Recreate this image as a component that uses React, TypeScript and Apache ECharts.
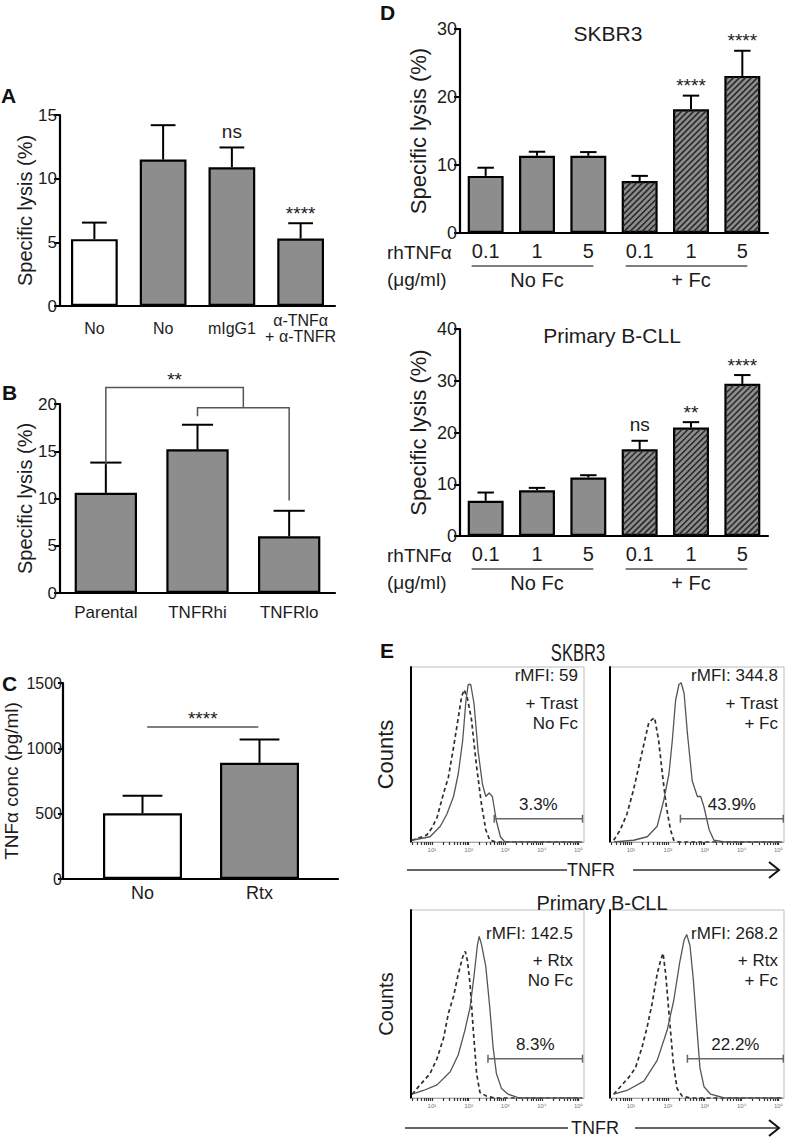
import React, { useEffect, useRef } from 'react';
import * as echarts from 'echarts';

// ---------------- data ----------------
// Panel A
const aCategories = ['No', 'No', 'mIgG1', 'α-TNFα\n+ α-TNFR'];
const aMeans = [5.25, 11.5, 10.9, 5.3];
const aSems = [1.3, 2.7, 1.55, 1.2];
const aSig = ['', '', 'ns', '****'];
const aFilled = [false, true, true, true];

// Panel B
const bCategories = ['Parental', 'TNFRhi', 'TNFRlo'];
const bMeans = [10.6, 15.2, 6.0];
const bSems = [3.2, 2.6, 2.7];
const bBracketOuter = [[0, 13.6], [0, 21.75], [1.5, 21.75], [1.5, 19.6]];
const bBracketInner = [[1, 18.7], [1, 19.6], [2, 19.6], [2, 9.8]];
const bBracketLabel = '**';

// Panel C
const cCategories = ['No', 'Rtx'];
const cMeans = [503, 889];
const cSems = [135, 179];
const cFilled = [false, true];
const cSigLine = [1.04, 1164, 1.99];
const cSigLabel = '****';

// Panel D
const dDoses = ['0.1', '1', '5', '0.1', '1', '5'];
const dGroups = ['No Fc', '+ Fc'];
const dGroupSpans = [[0, 2], [3, 5]];
const dHatched = [false, false, false, true, true, true];
const d1Means = [8.4, 11.35, 11.35, 7.65, 18.2, 23.1];
const d1Sems = [1.2, 0.6, 0.55, 0.75, 2.0, 3.7];
const d1Sig = ['', '', '', '', '****', '****'];
const d2Means = [6.8, 8.85, 11.3, 16.75, 20.95, 29.4];
const d2Sems = [1.6, 0.45, 0.45, 1.65, 1.05, 1.7];
const d2Sig = ['', '', '', 'ns', '**', '****'];

// Panel E  (x = log10 fluorescence, y = relative counts)
const eDecades = [1, 2, 3, 4, 5];
const e1aIso = [[0.45, 1], [0.6, 2], [0.86, 4], [1.0, 8], [1.14, 14], [1.32, 28], [1.45, 37], [1.59, 54], [1.72, 71], [1.81, 83], [1.88, 87], [1.97, 82], [2.08, 70], [2.22, 43], [2.35, 22], [2.47, 7], [2.58, 1], [2.76, 0], [5.1, 0]];
const e1aStain = [[0.45, 1], [0.95, 3], [1.23, 9], [1.41, 16], [1.59, 26], [1.72, 39], [1.84, 58], [1.93, 81], [1.99, 90], [2.06, 90], [2.15, 79], [2.26, 52], [2.38, 33], [2.47, 26], [2.56, 28], [2.65, 26], [2.76, 12], [2.87, 3], [2.99, 0], [5.1, 0]];
const e1bIso = [[0.53, 1], [0.71, 7], [0.89, 16], [1.07, 30], [1.21, 43], [1.35, 56], [1.48, 68], [1.57, 70], [1.64, 71], [1.75, 58], [1.85, 39], [1.96, 20], [2.07, 7], [2.16, 1], [2.3, 0], [5.1, 0]];
const e1bStain = [[0.53, 0], [1.07, 1], [1.44, 3], [1.71, 9], [1.89, 24], [2.03, 39], [2.12, 58], [2.21, 81], [2.3, 90], [2.36, 91], [2.44, 85], [2.53, 62], [2.66, 35], [2.8, 26], [2.89, 26], [2.98, 20], [3.12, 7], [3.25, 1], [3.53, 0], [5.1, 0]];
const e2aIso = [[0.46, 2], [0.59, 5], [0.77, 9], [0.95, 13], [1.14, 21], [1.32, 32], [1.45, 45], [1.59, 54], [1.72, 66], [1.84, 75], [1.91, 78], [1.97, 73], [2.04, 61], [2.13, 36], [2.22, 13], [2.31, 3], [2.49, 1], [2.7, 0], [5.1, 0]];
const e2aStain = [[0.46, 2], [0.77, 4], [1.14, 7], [1.5, 14], [1.72, 23], [1.9, 36], [2.04, 48], [2.15, 65], [2.24, 81], [2.29, 86], [2.35, 82], [2.47, 70], [2.58, 48], [2.67, 27], [2.76, 13], [2.9, 5], [3.08, 2], [3.39, 0], [5.1, 0]];
const e2bIso = [[0.53, 2], [0.71, 6], [0.94, 11], [1.12, 16], [1.3, 27], [1.44, 38], [1.57, 50], [1.71, 66], [1.8, 73], [1.87, 77], [1.94, 66], [2.03, 45], [2.15, 18], [2.25, 5], [2.39, 1], [2.6, 0], [5.1, 0]];
const e2bStain = [[0.53, 2], [0.89, 4], [1.35, 9], [1.71, 20], [1.98, 36], [2.16, 52], [2.32, 72], [2.44, 84], [2.51, 87], [2.6, 81], [2.69, 63], [2.78, 39], [2.87, 16], [2.98, 6], [3.16, 2], [3.53, 0], [5.1, 0]];
// gates: [start, level, end]
const e1aGate = [2.7, 13.3, 5.11];
const e1bGate = [2.34, 13.3, 5.13];
const e2aGate = [2.53, 20.9, 5.11];
const e2bGate = [2.53, 20.9, 5.13];
const eGateLabels = ['3.3%', '43.9%', '8.3%', '22.2%'];
const e1aText = ['rMFI: 59', '+ Trast', 'No Fc'];
const e1bText = ['rMFI: 344.8', '+ Trast', '+ Fc'];
const e2aText = ['rMFI: 142.5', '+ Rtx', 'No Fc'];
const e2bText = ['rMFI: 268.2', '+ Rtx', '+ Fc'];

// ---------------- layout & style ----------------
const FONT = 'Arial, "Liberation Sans", Helvetica, sans-serif';
const INK = '#1c1c1c';
const GRAY = '#8d8d8d';
const L = {
  A: { left: 60, top: 115, width: 275, height: 191 },
  B: { left: 60, top: 404, width: 275, height: 189 },
  C: { left: 63, top: 683, width: 275, height: 196 },
  D1: { left: 460, top: 29, width: 308, height: 204 },
  D2: { left: 460, top: 329, width: 308, height: 207 },
  E1L: { left: 411, top: 667, width: 173, height: 175 },
  E1R: { left: 610, top: 667, width: 174, height: 175 },
  E2L: { left: 411, top: 910, width: 173, height: 188 },
  E2R: { left: 610, top: 910, width: 174, height: 188 },
};
const SUP: Record<number, string> = { 0: '⁰', 1: '¹', 2: '²', 3: '³', 4: '⁴', 5: '⁵' };
const E_MIN = 0.43;
const E_MAX = 5.15;

function ts(text: string, size: number, align = 'center', weight = 'normal', fill = INK) {
  return {
    text, fill, font: `${weight} ${size}px ${FONT}`,
    align, textAlign: align, verticalAlign: 'middle', textVerticalAlign: 'middle',
  };
}

function catXAxis(gi: number, data: string[], fontSize: number, margin: number, lineHeight?: number) {
  return {
    gridIndex: gi, type: 'category', data,
    axisLine: { show: true, lineStyle: { color: '#000', width: 2.2 } },
    axisTick: { show: false },
    axisLabel: { interval: 0, color: INK, fontFamily: FONT, fontSize, margin, verticalAlign: 'middle', lineHeight: lineHeight || fontSize },
    splitLine: { show: false },
  };
}
function valYAxis(gi: number, max: number, interval: number, name: string, nameGap: number, fontSize: number, nameSize: number, tickLen = 6, labelMargin = 3) {
  return {
    gridIndex: gi, type: 'value', min: 0, max, interval,
    axisLine: { show: true, lineStyle: { color: '#000', width: 2.2 } },
    axisTick: { show: true, length: tickLen, lineStyle: { color: '#000', width: 2 } },
    axisLabel: { color: INK, fontFamily: FONT, fontSize, margin: labelMargin, formatter: (v: number) => String(v) },
    splitLine: { show: false },
    name, nameLocation: 'middle', nameGap, nameMoveOverlap: false,
    nameTextStyle: { color: INK, fontFamily: FONT, fontSize: nameSize },
  };
}

function errorSeries(gi: number, means: number[], sems: number[], capFrac: number, xOf: (i: number) => number) {
  return {
    type: 'custom', xAxisIndex: gi, yAxisIndex: gi, clip: false, silent: true, z: 4,
    data: means.map((m, i) => [xOf(i), m, m + sems[i]]),
    renderItem: (params: any, api: any) => {
      const x = api.value(0);
      const p1 = api.coord([x, api.value(1)]);
      const p2 = api.coord([x, api.value(2)]);
      const half = (api.size([1, 0])[0] * capFrac) / 2;
      const st = { stroke: '#000', lineWidth: 2 };
      return {
        type: 'group', children: [
          { type: 'line', shape: { x1: p1[0], y1: p1[1], x2: p2[0], y2: p2[1] }, style: st },
          { type: 'line', shape: { x1: p2[0] - half, y1: p2[1], x2: p2[0] + half, y2: p2[1] }, style: st },
        ],
      };
    },
  };
}

function sigSeries(gi: number, means: number[], sems: number[], labels: string[], xOf: (i: number) => number) {
  const idx = labels.map((_, i) => i).filter((i) => labels[i]);
  return {
    type: 'custom', xAxisIndex: gi, yAxisIndex: gi, clip: false, silent: true, z: 5,
    data: idx.map((i) => [xOf(i), means[i] + sems[i]]),
    renderItem: (params: any, api: any) => {
      const lab = labels[idx[params.dataIndex]];
      const p = api.coord([api.value(0), api.value(1)]);
      const off = lab.indexOf('*') >= 0 ? 10 : 16;
      return { type: 'text', x: p[0], y: p[1] - off, style: ts(lab, 19) };
    },
  };
}

// diagonal "/" hatching drawn inside the hatched bars
function hatchSeries(gi: number, means: number[], flags: boolean[], barFrac: number) {
  const idx = flags.map((_, i) => i).filter((i) => flags[i]);
  return {
    type: 'custom', xAxisIndex: gi, yAxisIndex: gi, clip: false, silent: true, z: 3,
    data: idx.map((i) => [i, means[i]]),
    renderItem: (params: any, api: any) => {
      const w = api.size([1, 0])[0] * barFrac;
      const top = api.coord([api.value(0), api.value(1)]);
      const base = api.coord([api.value(0), 0]);
      const inset = 1.4;
      const x0 = top[0] - w / 2 + inset, x1 = top[0] + w / 2 - inset;
      const y0 = top[1] + inset, y1 = base[1] - inset;
      const step = 6;
      const children: any[] = [];
      for (let c = x0 + y0 + 2; c < x1 + y1; c += step) {
        const xa = Math.max(x0, c - y1);
        const xb = Math.min(x1, c - y0);
        if (xb - xa > 0.5) {
          children.push({ type: 'line', shape: { x1: xa, y1: c - xa, x2: xb, y2: c - xb }, style: { stroke: '#2a2a2a', lineWidth: 1.6 } });
        }
      }
      return { type: 'group', children };
    },
  };
}

function groupSeries(gi: number) {
  return {
    type: 'custom', xAxisIndex: gi, yAxisIndex: gi, clip: false, silent: true,
    data: dGroupSpans.map((s) => [s[0], 0, s[1]]),
    renderItem: (params: any, api: any) => {
      const a = api.coord([api.value(0), 0]);
      const b = api.coord([api.value(2), 0]);
      const y = a[1];
      return {
        type: 'group', children: [
          { type: 'line', shape: { x1: a[0] - 14, y1: y + 33, x2: b[0] + 5, y2: y + 33 }, style: { stroke: '#555', lineWidth: 1.5 } },
          { type: 'text', x: (a[0] + b[0]) / 2, y: y + 47, style: ts(dGroups[params.dataIndex], 20) },
        ],
      };
    },
  };
}

function gateSeries(gi: number, gate: number[], label: string) {
  return {
    type: 'custom', xAxisIndex: gi, yAxisIndex: gi, clip: false, silent: true, z: 4,
    data: [gate],
    renderItem: (params: any, api: any) => {
      const a = api.coord([api.value(0), api.value(1)]);
      const b = api.coord([api.value(2), api.value(1)]);
      const st = { stroke: '#666', lineWidth: 1.5 };
      return {
        type: 'group', children: [
          { type: 'line', shape: { x1: a[0], y1: a[1], x2: b[0], y2: b[1] }, style: st },
          { type: 'line', shape: { x1: a[0], y1: a[1] - 4, x2: a[0], y2: a[1] + 4 }, style: st },
          { type: 'line', shape: { x1: b[0], y1: b[1] - 4, x2: b[0], y2: b[1] + 4 }, style: st },
          { type: 'text', x: (a[0] + b[0]) / 2, y: a[1] - 14, style: ts(label, 17) },
        ],
      };
    },
  };
}

function histSeries(gi: number, data: number[][], dashed: boolean) {
  return {
    type: 'line', xAxisIndex: gi, yAxisIndex: gi, data, showSymbol: false, symbol: 'none', silent: true,
    z: dashed ? 2 : 3,
    lineStyle: dashed ? { color: '#2e2e2e', width: 1.7, type: [4, 3] } : { color: '#555', width: 1.3 },
  };
}

function buildOption() {
  const grid: any[] = [];
  const xAxis: any[] = [];
  const yAxis: any[] = [];
  const series: any[] = [];
  const graphic: any[] = [];

  const order = ['A', 'B', 'C', 'D1', 'D2', 'E1L', 'E1R', 'E2L', 'E2R'] as const;
  order.forEach((k) => {
    const g = L[k];
    const isE = k.startsWith('E');
    grid.push({ ...g, containLabel: false, outerBoundsMode: 'none', show: isE, borderColor: '#bdbdbd', borderWidth: 1, backgroundColor: 'transparent' });
  });

  // ---- A ----
  xAxis.push(catXAxis(0, aCategories, 16, 22, 16));
  yAxis.push(valYAxis(0, 15, 5, 'Specific lysis (%)', 25, 17, 20));
  series.push({
    type: 'bar', xAxisIndex: 0, yAxisIndex: 0, barWidth: '68%', silent: true,
    itemStyle: { borderColor: '#000', borderWidth: 2.2 },
    data: aMeans.map((v, i) => ({ value: v, itemStyle: { color: aFilled[i] ? GRAY : '#fff' } })),
  });
  series.push(errorSeries(0, aMeans, aSems, 0.36, (i) => i));
  series.push(sigSeries(0, aMeans, aSems, aSig, (i) => i));

  // ---- B ----
  xAxis.push(catXAxis(1, bCategories, 17, 19));
  yAxis.push(valYAxis(1, 20, 5, 'Specific lysis (%)', 25, 17, 20));
  series.push({
    type: 'bar', xAxisIndex: 1, yAxisIndex: 1, barWidth: '68%', silent: true,
    itemStyle: { borderColor: '#000', borderWidth: 2.2, color: GRAY },
    data: bMeans,
  });
  series.push(errorSeries(1, bMeans, bSems, 0.34, (i) => i));
  series.push({
    type: 'custom', xAxisIndex: 1, yAxisIndex: 1, clip: false, silent: true, z: 4,
    data: [[0, 0]],
    renderItem: (params: any, api: any) => {
      const band = api.size([1, 0])[0];
      const toPx = (p: number[]) => { const b = api.coord([0, p[1]]); return [b[0] + p[0] * band, b[1]]; };
      const outer = bBracketOuter.map(toPx);
      const inner = bBracketInner.map(toPx);
      const st = { stroke: '#555', lineWidth: 1.5, fill: 'none' };
      return {
        type: 'group', children: [
          { type: 'polyline', shape: { points: outer }, style: st },
          { type: 'polyline', shape: { points: inner }, style: st },
          { type: 'text', x: (outer[1][0] + outer[2][0]) / 2, y: outer[1][1] - 8, style: ts(bBracketLabel, 19) },
        ],
      };
    },
  });

  // ---- C ----
  const cSpan = 275 / 117;
  const cMin = 1 - 79.5 / 117;
  xAxis.push({
    gridIndex: 2, type: 'value', min: cMin, max: cMin + cSpan,
    axisLine: { show: true, onZero: false, lineStyle: { color: '#000', width: 2.2 } },
    axisTick: { show: false },
    axisLabel: { customValues: [1, 2], formatter: (v: number) => cCategories[Math.round(v) - 1] || '', color: INK, fontFamily: FONT, fontSize: 18, margin: 14, verticalAlign: 'middle' },
    splitLine: { show: false },
  });
  yAxis.push(valYAxis(2, 1500, 500, 'TNFα conc (pg/ml)', 42, 16, 19, 5, 1));
  series.push({
    type: 'bar', xAxisIndex: 2, yAxisIndex: 2, barWidth: 79, silent: true,
    itemStyle: { borderColor: '#000', borderWidth: 2.2 },
    data: cMeans.map((v, i) => ({ value: [i + 1, v], itemStyle: { color: cFilled[i] ? GRAY : '#fff' } })),
  });
  series.push(errorSeries(2, cMeans, cSems, 0.34, (i) => i + 1));
  series.push({
    type: 'custom', xAxisIndex: 2, yAxisIndex: 2, clip: false, silent: true, z: 4,
    data: [cSigLine],
    renderItem: (params: any, api: any) => {
      const a = api.coord([api.value(0), api.value(1)]);
      const b = api.coord([api.value(2), api.value(1)]);
      return {
        type: 'group', children: [
          { type: 'line', shape: { x1: a[0], y1: a[1], x2: b[0], y2: b[1] }, style: { stroke: '#555', lineWidth: 1.5 } },
          { type: 'text', x: (a[0] + b[0]) / 2, y: a[1] - 8, style: ts(cSigLabel, 19) },
        ],
      };
    },
  });

  // ---- D ----
  const dPanels = [
    { gi: 3, means: d1Means, sems: d1Sems, sig: d1Sig, max: 30 },
    { gi: 4, means: d2Means, sems: d2Sems, sig: d2Sig, max: 40 },
  ];
  dPanels.forEach((p) => {
    xAxis.push(catXAxis(p.gi, dDoses, 20, 18));
    yAxis.push(valYAxis(p.gi, p.max, 10, 'Specific lysis (%)', 31, 18, 22));
    series.push({
      type: 'bar', xAxisIndex: p.gi, yAxisIndex: p.gi, barWidth: '70%', silent: true,
      itemStyle: { borderColor: '#000', borderWidth: 2.2, color: GRAY },
      data: p.means,
    });
    series.push(hatchSeries(p.gi, p.means, dHatched, 0.7));
    series.push(errorSeries(p.gi, p.means, p.sems, 0.32, (i) => i));
    series.push(sigSeries(p.gi, p.means, p.sems, p.sig, (i) => i));
    series.push(groupSeries(p.gi));
  });

  // ---- E ----
  const minorTicks: number[] = [];
  for (let d = 0; d <= 5; d++) {
    for (let k = 1; k <= 9; k++) {
      const v = d + Math.log10(k);
      if (v >= E_MIN && v <= E_MAX) minorTicks.push(v);
    }
  }
  const ePanels = [
    { gi: 5, key: 'E1L', iso: e1aIso, stain: e1aStain, gate: e1aGate, label: eGateLabels[0], text: e1aText, left: true, rows: [8, 36, 56], inset: 6, countsSize: 22 },
    { gi: 6, key: 'E1R', iso: e1bIso, stain: e1bStain, gate: e1bGate, label: eGateLabels[1], text: e1bText, left: false, rows: [8, 36, 56], inset: 6, countsSize: 22 },
    { gi: 7, key: 'E2L', iso: e2aIso, stain: e2aStain, gate: e2aGate, label: eGateLabels[2], text: e2aText, left: true, rows: [23, 50, 70], inset: 11, countsSize: 20 },
    { gi: 8, key: 'E2R', iso: e2bIso, stain: e2bStain, gate: e2bGate, label: eGateLabels[3], text: e2bText, left: false, rows: [23, 50, 70], inset: 6, countsSize: 20 },
  ];
  ePanels.forEach((p) => {
    xAxis.push({
      gridIndex: p.gi, type: 'value', min: E_MIN, max: E_MAX,
      axisLine: { show: true, onZero: false, lineStyle: { color: '#aaa', width: 1 } },
      axisTick: { show: true, customValues: minorTicks, length: 3, lineStyle: { color: '#333', width: 1.2 } },
      axisLabel: { show: true, customValues: eDecades, formatter: (v: number) => '10' + (SUP[Math.round(v)] || ''), fontSize: 6, color: '#777', fontFamily: FONT, margin: 5 },
      splitLine: { show: false },
    });
    yAxis.push({
      gridIndex: p.gi, type: 'value', min: 0, max: 100,
      axisLine: { show: true, lineStyle: { color: '#000', width: 2 } },
      axisTick: { show: false }, axisLabel: { show: false }, splitLine: { show: false },
      name: p.left ? 'Counts' : '', nameLocation: 'middle', nameGap: 15, nameMoveOverlap: false,
      nameTextStyle: { color: INK, fontFamily: FONT, fontSize: p.countsSize },
    });
    series.push(histSeries(p.gi, p.iso, true));
    series.push(histSeries(p.gi, p.stain, false));
    series.push(gateSeries(p.gi, p.gate, p.label));
    const g = L[p.key as keyof typeof L];
    p.text.forEach((t, i) => {
      graphic.push({ type: 'text', x: g.left + g.width - p.inset, y: g.top + p.rows[i], style: ts(t, 17, 'right') });
    });
  });

  // ---- free texts ----
  const letter = (t: string, x: number, y: number) => ({ type: 'text', x, y, style: ts(t, 21, 'left', 'bold', '#111') });
  graphic.push(letter('A', 1, 95), letter('B', 2, 392), letter('C', 2, 683), letter('D', 380, 12), letter('E', 380, 650));
  graphic.push({ type: 'text', x: 608, y: 33, style: ts('SKBR3', 21) });
  graphic.push({ type: 'text', x: 612, y: 335, style: ts('Primary B-CLL', 21) });
  [L.D1, L.D2].forEach((g) => {
    const ay = g.top + g.height;
    graphic.push({ type: 'text', x: 387, y: ay + 19, style: ts('rhTNFα', 19, 'left') });
    graphic.push({ type: 'text', x: 387, y: ay + 46, style: ts('(μg/ml)', 19, 'left') });
  });
  graphic.push({ type: 'text', x: 578, y: 653, scaleX: 0.72, scaleY: 1, style: ts('SKBR3', 23) });
  graphic.push({ type: 'text', x: 602, y: 903, style: ts('Primary B-CLL', 20) });
  const arrowRow = (y: number, tx: number, l1: number[], l2: number[]) => {
    graphic.push({ type: 'line', shape: { x1: l1[0], y1: y, x2: l1[1], y2: y }, style: { stroke: '#333', lineWidth: 1.5 } });
    graphic.push({ type: 'text', x: tx, y, style: ts('TNFR', 18) });
    graphic.push({ type: 'line', shape: { x1: l2[0], y1: y, x2: l2[1], y2: y }, style: { stroke: '#333', lineWidth: 1.5 } });
    graphic.push({ type: 'polyline', shape: { points: [[l2[1] - 9, y - 8], [l2[1] + 1, y], [l2[1] - 9, y + 8]] }, style: { stroke: '#111', lineWidth: 2, fill: 'none' } });
  };
  arrowRow(870, 591, [407, 567], [633, 778]);
  arrowRow(1128, 595, [405, 568], [635, 778]);

  return {
    animation: false,
    backgroundColor: '#fff',
    textStyle: { fontFamily: FONT },
    grid, xAxis, yAxis, series, graphic,
  };
}

export default function App() {
  const ref = useRef<HTMLDivElement>(null);
  useEffect(() => {
    const chart = echarts.init(ref.current as HTMLDivElement, null, { renderer: 'svg' });
    chart.setOption(buildOption() as any);
    return () => chart.dispose();
  }, []);
  return <div ref={ref} style={{ position: 'absolute', left: 0, top: 0, width: 787, height: 1138, background: '#fff' }} />;
}
